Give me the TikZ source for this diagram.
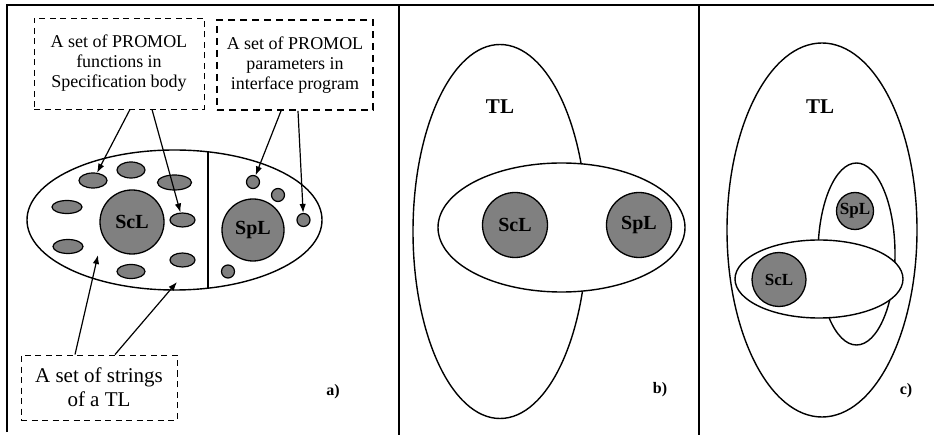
\documentclass[tikz,border=0pt]{standalone}
\usepackage{fontspec}
\setmainfont{Liberation Serif}
\usetikzlibrary{shapes.geometric,arrows.meta}
\begin{document}
\begin{tikzpicture}[x=1pt,y=-1pt,
  frame/.style={line width=2pt},
  oval/.style={draw, ellipse, line width=1.4pt, fill=white, inner sep=0pt},
  set/.style={draw, circle, line width=1.3pt, fill=black!50, inner sep=0pt,
    font=\fontsize{20}{24}\selectfont\bfseries},
  smallset/.style={set, font=\fontsize{17}{20}\selectfont\bfseries},
  blob/.style={draw, ellipse, line width=1.2pt, fill=black!50, inner sep=0pt},
  dot/.style={draw, circle, line width=1.2pt, fill=black!50, inner sep=0pt, minimum size=13pt},
  note/.style={draw, dashed, line width=0.9pt, dash pattern=on 6pt off 4.5pt,
    align=center, inner sep=0pt, font=\fontsize{18}{20}\selectfont},
  boldnote/.style={note, line width=1.8pt, dash pattern=on 7pt off 5pt},
  bignote/.style={note, font=\fontsize{21}{24}\selectfont},
  pointer/.style={line width=1.2pt, -{Latex[length=9pt,width=6.5pt]}},
  lang/.style={font=\fontsize{21}{24}\selectfont\bfseries},
  tag/.style={font=\fontsize{16}{18}\selectfont\bfseries}
]
\useasboundingbox (0,0) rectangle (934,435);

% outer frame and panel dividers
\draw[frame] (7,432) -- (7,5) -- (934,5);
\draw[frame] (399,5) -- (399,435);
\draw[frame] (699,5) -- (699,435);

% ---------------- panel a ----------------
\node[oval, minimum width=295pt, minimum height=140pt] (tlA) at (174.5,220) {};
\draw[line width=1.4pt] (208,151.8) -- (208,288.2);

\node[blob, minimum width=28pt, minimum height=15pt] (e1) at (93,180.5) {};
\node[blob, minimum width=28pt, minimum height=16pt] (e2) at (131,170) {};
\node[blob, minimum width=34pt, minimum height=15pt] (e3) at (174.5,182.5) {};
\node[blob, minimum width=30pt, minimum height=13pt] (e4) at (67,207) {};
\node[blob, minimum width=25pt, minimum height=14pt] (e5) at (182.5,220) {};
\node[blob, minimum width=30pt, minimum height=14pt] (e6) at (68,246.5) {};
\node[blob, minimum width=25pt, minimum height=14pt] (e7) at (182.5,260) {};
\node[blob, minimum width=28pt, minimum height=14pt] (e8) at (131,271.5) {};

\node[dot] (d1) at (253,182) {};
\node[dot] (d2) at (278,195) {};
\node[dot] (d3) at (303.5,220) {};
\node[dot] (d4) at (228,271.5) {};

\node[set, minimum size=64pt] (sclA) at (132,222) {ScL};
\node[set, minimum size=62pt] (splA) at (253,230) {SpL};

\node[note, minimum width=170pt, minimum height=91pt] (funcs) at (119,63.5)
  {A set of PROMOL\\functions in\\Specification body};
\node[boldnote, minimum width=156pt, minimum height=90pt] (params) at (295,65)
  {A set of PROMOL\\parameters in\\interface program};
\node[bignote, minimum width=156pt, minimum height=65pt] (strings) at (99,387.5)
  {A set of strings\\of a TL};

\coordinate (s1) at (98,255);
\coordinate (s2) at (177,282);

\draw[pointer] ([xshift=11pt]funcs.south) -- (e1);
\draw[pointer] ([xshift=33pt]funcs.south) -- (e5);
\draw[pointer] ([xshift=-14pt]params.south) -- (d1);
\draw[pointer] ([xshift=3pt]params.south) -- (d3);
\draw[pointer] ([xshift=-24pt]strings.north) -- (s1);
\draw[pointer] ([xshift=16pt]strings.north) -- (s2);

\node[tag] (tagA) at (333,392) {a)};

% ---------------- panel b ----------------
\node[oval, minimum width=174pt, minimum height=374pt] (tlB) at (500,231.5) {};
\node[oval, minimum width=247pt, minimum height=129pt] (unionB) at (561.5,227.5) {};
\node[set, minimum size=65pt] (sclB) at (515,225) {ScL};
\node[set, minimum size=65pt] (splB) at (639,225) {SpL};
\node[lang] (nameB) at (500,107) {TL};
\node[tag] (tagB) at (660,390) {b)};

% ---------------- panel c ----------------
\node[oval, minimum width=190pt, minimum height=374pt] (tlC) at (822,230) {};
\node[oval, minimum width=77pt, minimum height=182pt] (spC) at (856.5,254) {};
\node[oval, minimum width=168pt, minimum height=78pt] (scC) at (819,279) {};
\node[smallset, minimum size=37pt] (splC) at (855,211) {SpL};
\node[smallset, minimum size=54pt] (sclC) at (779,279.5) {ScL};
\node[lang] (nameC) at (820,107) {TL};
\node[tag] (tagC) at (906,391) {c)};

\end{tikzpicture}
\end{document}
